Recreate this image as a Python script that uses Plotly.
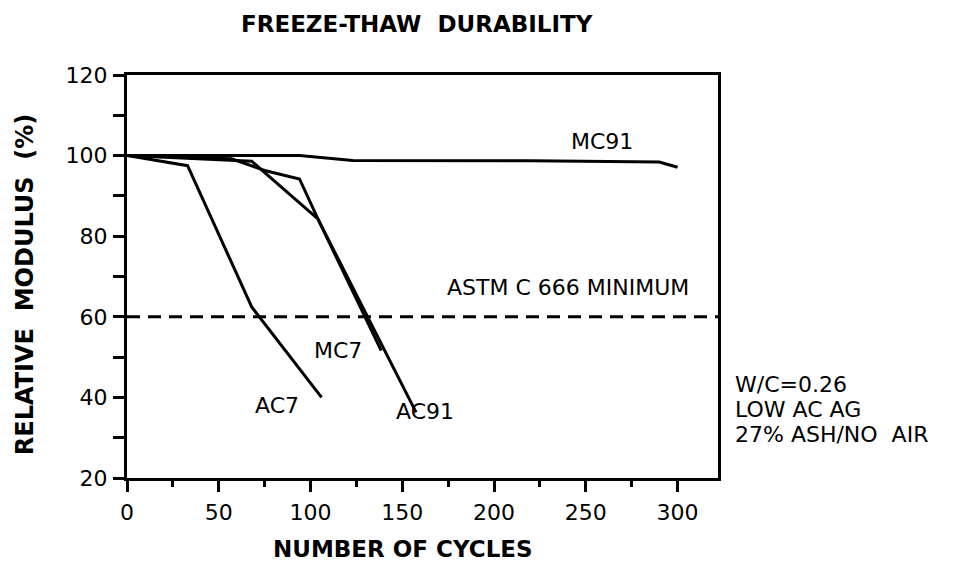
import plotly.graph_objects as go

# ---- data ----
ac7_x = [0, 33, 68, 106]
ac7_y = [100, 97.5, 62.4, 40.0]

mc7_x = [0, 68, 104, 138.5]
mc7_y = [100, 98.6, 84.3, 51.6]

ac91_x = [0, 57, 75, 94, 104, 157.5]
ac91_y = [100, 99.2, 96.3, 94.2, 84.3, 36.3]

mc91_x = [0, 94, 123, 220, 290, 300]
mc91_y = [100, 100, 98.8, 98.7, 98.4, 97.1]

astm_minimum = 60

series = [("AC7", ac7_x, ac7_y), ("MC7", mc7_x, mc7_y),
          ("AC91", ac91_x, ac91_y), ("MC91", mc91_x, mc91_y)]

FONT = "DejaVu Sans"
fig = go.Figure()
for name, xs, ys in series:
    fig.add_trace(go.Scatter(x=xs, y=ys, mode="lines", name=name,
                             line=dict(color="black", width=3),
                             showlegend=False, hoverinfo="skip"))

fig.add_hline(y=astm_minimum, line=dict(color="black", width=3, dash="13px,8px"))

axis_common = dict(showline=True, linewidth=3, linecolor="black", mirror=True,
                   showgrid=False, zeroline=False, ticks="outside",
                   tickcolor="black", tickwidth=2.5,
                   tickfont=dict(family=FONT, size=22, color="black"))

fig.update_xaxes(range=[0, 322], tick0=0, dtick=50, ticklen=11,
                 ticklabelstandoff=2,
                 minor=dict(tick0=0, dtick=25, ticks="outside", ticklen=6,
                            tickwidth=2.5, tickcolor="black", showgrid=False),
                 **axis_common)
fig.update_yaxes(range=[20, 120], tick0=20, dtick=20, ticklen=11,
                 ticklabelstandoff=1,
                 minor=dict(tick0=20, dtick=10, ticks="outside", ticklen=11,
                            tickwidth=2.5, tickcolor="black", showgrid=False),
                 **axis_common)

label_font = dict(family=FONT, size=22, color="black")
bold_font = dict(family=FONT, size=23, color="black", weight="bold")


def paper_note(x, y, text, font, xanchor="center", **kw):
    return dict(x=x, y=y, text=text, xref="paper", yref="paper", xanchor=xanchor,
                yanchor="middle", showarrow=False, font=font, **kw)


def data_label(x, y, text):
    return dict(x=x, y=y, text=text, xref="x", yref="y", xanchor="center",
                yanchor="middle", showarrow=False, font=label_font)


annotations = [
    data_label(259, 103.4, "MC91"),
    data_label(240, 67.2, "ASTM C 666 MINIMUM"),
    data_label(114.7, 51.6, "MC7"),
    data_label(81.9, 38.0, "AC7"),
    data_label(162.5, 36.6, "AC91"),
    paper_note(1.025, 0.231, "W/C=0.26", label_font, xanchor="left"),
    paper_note(1.025, 0.169, "LOW AC AG", label_font, xanchor="left"),
    paper_note(1.025, 0.107, "27% ASH/NO\u00a0 AIR", label_font, xanchor="left"),
    paper_note(0.4907, 1.1266, "FREEZE-THAW\u00a0 DURABILITY",
               dict(family=FONT, size=23, color="black", weight="bold")),
    paper_note(0.467, -0.177, "NUMBER OF CYCLES", bold_font),
    paper_note(-0.1726, 0.481, "RELATIVE\u00a0 MODULUS\u00a0 (%)",
               dict(family=FONT, size=24, color="black", weight="bold"), textangle=-90),
]

# page body adds an 8px offset; compensate so the plot frame lands at 127..718 x 75..478
fig.update_layout(width=946, height=557,
                  margin=dict(l=119, r=236, t=67, b=87),
                  paper_bgcolor="white", plot_bgcolor="white",
                  font=dict(family=FONT, color="black"),
                  showlegend=False, annotations=annotations)

fig.write_html("out.html")
